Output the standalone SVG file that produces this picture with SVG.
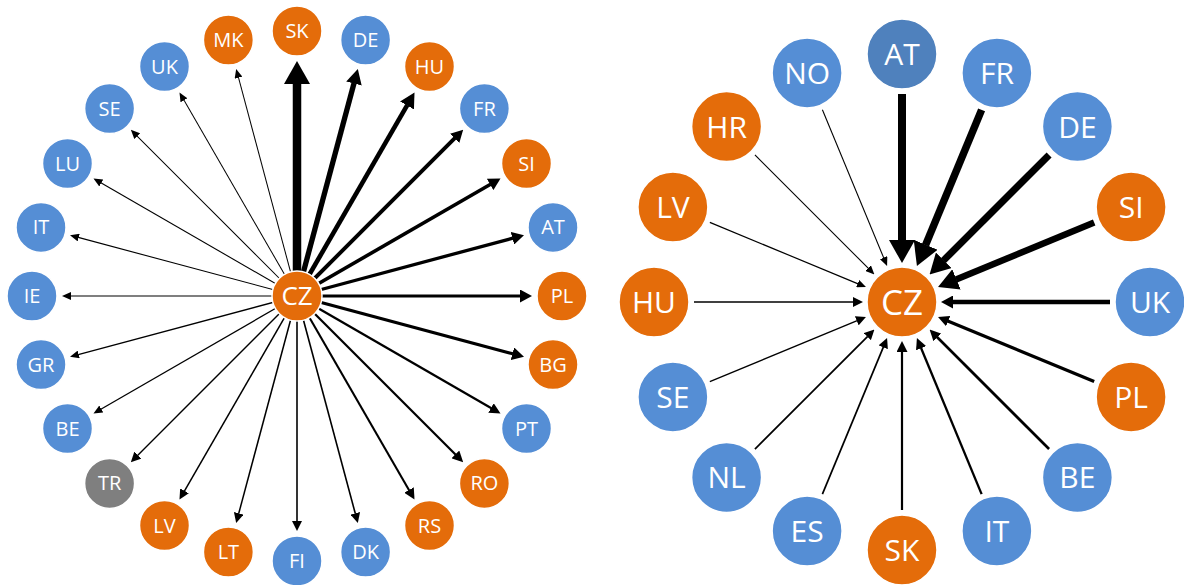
<svg xmlns="http://www.w3.org/2000/svg" width="1184" height="585" viewBox="0 0 1184 585">
  <style>
    .or { fill: #E46C0A; }
    .bl { fill: #558ED5; }
    .db { fill: #4F81BD; }
    .gy { fill: #7F7F7F; }
    circle { stroke: #ffffff; stroke-width: 1.5; }
    text { fill: #ffffff; font-family: "Open Sans", "Noto Sans", "Liberation Sans", sans-serif; text-anchor: middle; }
    .s { font-size: 20px; }
    .sc { font-size: 26px; }
    .l { font-size: 30px; }
    .lc { font-size: 35px; }
    line { stroke: #000000; fill: none; }
    marker path { fill: #000000; }
  </style>
  <defs>
    <!-- arrowheads, sized in user units; the shaft stops at the base of each head -->
    <marker id="h1" markerUnits="userSpaceOnUse" orient="auto" markerWidth="9" markerHeight="8" refX="0.5" refY="4"><path d="M0,0 L9,4 L0,8 Z"/></marker>
    <marker id="h2" markerUnits="userSpaceOnUse" orient="auto" markerWidth="10" markerHeight="10" refX="0.5" refY="5"><path d="M0,0 L10,5 L0,10 Z"/></marker>
    <marker id="h3" markerUnits="userSpaceOnUse" orient="auto" markerWidth="11" markerHeight="11" refX="0.5" refY="5.5"><path d="M0,0 L11,5.5 L0,11 Z"/></marker>
    <marker id="h4" markerUnits="userSpaceOnUse" orient="auto" markerWidth="12" markerHeight="13" refX="0.5" refY="6.5"><path d="M0,0 L12,6.5 L0,13 Z"/></marker>
    <marker id="h5" markerUnits="userSpaceOnUse" orient="auto" markerWidth="15" markerHeight="16" refX="0.5" refY="8"><path d="M0,0 L15,8 L0,16 Z"/></marker>
    <marker id="h6" markerUnits="userSpaceOnUse" orient="auto" markerWidth="20" markerHeight="22" refX="0.5" refY="11"><path d="M0,0 L20,11 L0,22 Z"/></marker>
    <marker id="h7" markerUnits="userSpaceOnUse" orient="auto" markerWidth="23" markerHeight="26" refX="0.5" refY="13"><path d="M0,0 L23,13 L0,26 Z"/></marker>
  </defs>
  <rect width="1184" height="585" fill="#ffffff"/>

  <!-- outgoing links: CZ at (297,296) to a ring of radius 265 -->
  <g id="connectors-out">
    <line x1="297" y1="296" x2="509.5" y2="296" stroke-width="8.5" marker-end="url(#h7)" transform="rotate(-90 297 296)"/>
    <line x1="297" y1="296" x2="517.5" y2="296" stroke-width="5.3" marker-end="url(#h5)" transform="rotate(-75 297 296)"/>
    <line x1="297" y1="296" x2="517.5" y2="296" stroke-width="4.6" marker-end="url(#h5)" transform="rotate(-60 297 296)"/>
    <line x1="297" y1="296" x2="520.5" y2="296" stroke-width="3.9" marker-end="url(#h4)" transform="rotate(-45 297 296)"/>
    <line x1="297" y1="296" x2="520.5" y2="296" stroke-width="3.6" marker-end="url(#h4)" transform="rotate(-30 297 296)"/>
    <line x1="297" y1="296" x2="520.5" y2="296" stroke-width="3.3" marker-end="url(#h4)" transform="rotate(-15 297 296)"/>
    <line x1="297" y1="296" x2="520.5" y2="296" stroke-width="3.2" marker-end="url(#h4)"/>
    <line x1="297" y1="296" x2="520.5" y2="296" stroke-width="3.1" marker-end="url(#h4)" transform="rotate(15 297 296)"/>
    <line x1="297" y1="296" x2="521.5" y2="296" stroke-width="2.3" marker-end="url(#h3)" transform="rotate(30 297 296)"/>
    <line x1="297" y1="296" x2="521.5" y2="296" stroke-width="2.2" marker-end="url(#h3)" transform="rotate(45 297 296)"/>
    <line x1="297" y1="296" x2="521.5" y2="296" stroke-width="2.1" marker-end="url(#h3)" transform="rotate(60 297 296)"/>
    <line x1="297" y1="296" x2="522.5" y2="296" stroke-width="1.6" marker-end="url(#h2)" transform="rotate(75 297 296)"/>
    <line x1="297" y1="296" x2="522.5" y2="296" stroke-width="1.6" marker-end="url(#h2)" transform="rotate(90 297 296)"/>
    <line x1="297" y1="296" x2="522.5" y2="296" stroke-width="1.5" marker-end="url(#h2)" transform="rotate(105 297 296)"/>
    <line x1="297" y1="296" x2="522.5" y2="296" stroke-width="1.5" marker-end="url(#h2)" transform="rotate(120 297 296)"/>
    <line x1="297" y1="296" x2="522.5" y2="296" stroke-width="1.4" marker-end="url(#h2)" transform="rotate(135 297 296)"/>
    <line x1="297" y1="296" x2="523.5" y2="296" stroke-width="1.3" marker-end="url(#h1)" transform="rotate(150 297 296)"/>
    <line x1="297" y1="296" x2="523.5" y2="296" stroke-width="1.3" marker-end="url(#h1)" transform="rotate(165 297 296)"/>
    <line x1="297" y1="296" x2="523.5" y2="296" stroke-width="1.2" marker-end="url(#h1)" transform="rotate(180 297 296)"/>
    <line x1="297" y1="296" x2="523.5" y2="296" stroke-width="1.1" marker-end="url(#h1)" transform="rotate(195 297 296)"/>
    <line x1="297" y1="296" x2="523.5" y2="296" stroke-width="1.1" marker-end="url(#h1)" transform="rotate(210 297 296)"/>
    <line x1="297" y1="296" x2="523.5" y2="296" stroke-width="1" marker-end="url(#h1)" transform="rotate(225 297 296)"/>
    <line x1="297" y1="296" x2="523.5" y2="296" stroke-width="1" marker-end="url(#h1)" transform="rotate(240 297 296)"/>
    <line x1="297" y1="296" x2="523.5" y2="296" stroke-width="1" marker-end="url(#h1)" transform="rotate(255 297 296)"/>
  </g>

  <!-- incoming links: ring of radius 248 into CZ at (902,302) -->
  <g id="connectors-in">
    <line x1="1110" y1="302" x2="963.5" y2="302" stroke-width="8" marker-end="url(#h7)" transform="rotate(-90 902 302)"/>
    <line x1="1110" y1="302" x2="963.5" y2="302" stroke-width="7.5" marker-end="url(#h7)" transform="rotate(-67.5 902 302)"/>
    <line x1="1110" y1="302" x2="960.5" y2="302" stroke-width="7" marker-end="url(#h6)" transform="rotate(-45 902 302)"/>
    <line x1="1110" y1="302" x2="960.5" y2="302" stroke-width="6.5" marker-end="url(#h6)" transform="rotate(-22.5 902 302)"/>
    <line x1="1110" y1="302" x2="952.5" y2="302" stroke-width="4.4" marker-end="url(#h4)"/>
    <line x1="1110" y1="302" x2="951.5" y2="302" stroke-width="3.3" marker-end="url(#h3)" transform="rotate(22.5 902 302)"/>
    <line x1="1110" y1="302" x2="951.5" y2="302" stroke-width="2.7" marker-end="url(#h3)" transform="rotate(45 902 302)"/>
    <line x1="1110" y1="302" x2="951.5" y2="302" stroke-width="2.3" marker-end="url(#h3)" transform="rotate(67.5 902 302)"/>
    <line x1="1110" y1="302" x2="951.5" y2="302" stroke-width="2.2" marker-end="url(#h3)" transform="rotate(90 902 302)"/>
    <line x1="1110" y1="302" x2="950.5" y2="302" stroke-width="1.7" marker-end="url(#h2)" transform="rotate(112.5 902 302)"/>
    <line x1="1110" y1="302" x2="950.5" y2="302" stroke-width="1.7" marker-end="url(#h2)" transform="rotate(135 902 302)"/>
    <line x1="1110" y1="302" x2="950.5" y2="302" stroke-width="1.4" marker-end="url(#h2)" transform="rotate(157.5 902 302)"/>
    <line x1="1110" y1="302" x2="950.5" y2="302" stroke-width="1.4" marker-end="url(#h2)" transform="rotate(180 902 302)"/>
    <line x1="1110" y1="302" x2="949.5" y2="302" stroke-width="1.2" marker-end="url(#h1)" transform="rotate(202.5 902 302)"/>
    <line x1="1110" y1="302" x2="949.5" y2="302" stroke-width="1.1" marker-end="url(#h1)" transform="rotate(225 902 302)"/>
    <line x1="1110" y1="302" x2="949.5" y2="302" stroke-width="1.1" marker-end="url(#h1)" transform="rotate(247.5 902 302)"/>
  </g>

  <!-- left ring nodes (r = 25) -->
  <g id="L-CZ" transform="translate(297 296)"><circle r="25" class="or"/><text class="sc" y="9">CZ</text></g>
  <g id="L-SK" transform="translate(297 31)"><circle r="25" class="or"/><text class="s" y="7">SK</text></g>
  <g id="L-DE" transform="translate(365.6 40)"><circle r="25" class="bl"/><text class="s" y="7">DE</text></g>
  <g id="L-HU" transform="translate(429.5 66.5)"><circle r="25" class="or"/><text class="s" y="7">HU</text></g>
  <g id="L-FR" transform="translate(484.4 108.6)"><circle r="25" class="bl"/><text class="s" y="7">FR</text></g>
  <g id="L-SI" transform="translate(526.5 163.5)"><circle r="25" class="or"/><text class="s" y="7">SI</text></g>
  <g id="L-AT" transform="translate(553 227.4)"><circle r="25" class="bl"/><text class="s" y="7">AT</text></g>
  <g id="L-PL" transform="translate(562 296)"><circle r="25" class="or"/><text class="s" y="7">PL</text></g>
  <g id="L-BG" transform="translate(553 364.6)"><circle r="25" class="or"/><text class="s" y="7">BG</text></g>
  <g id="L-PT" transform="translate(526.5 428.5)"><circle r="25" class="bl"/><text class="s" y="7">PT</text></g>
  <g id="L-RO" transform="translate(484.4 483.4)"><circle r="25" class="or"/><text class="s" y="7">RO</text></g>
  <g id="L-RS" transform="translate(429.5 525.5)"><circle r="25" class="or"/><text class="s" y="7">RS</text></g>
  <g id="L-DK" transform="translate(365.6 552)"><circle r="25" class="bl"/><text class="s" y="7">DK</text></g>
  <g id="L-FI" transform="translate(297 561)"><circle r="25" class="bl"/><text class="s" y="7">FI</text></g>
  <g id="L-LT" transform="translate(228.4 552)"><circle r="25" class="or"/><text class="s" y="7">LT</text></g>
  <g id="L-LV" transform="translate(164.5 525.5)"><circle r="25" class="or"/><text class="s" y="7">LV</text></g>
  <g id="L-TR" transform="translate(109.6 483.4)"><circle r="25" class="gy"/><text class="s" y="7">TR</text></g>
  <g id="L-BE" transform="translate(67.5 428.5)"><circle r="25" class="bl"/><text class="s" y="7">BE</text></g>
  <g id="L-GR" transform="translate(41 364.6)"><circle r="25" class="bl"/><text class="s" y="7">GR</text></g>
  <g id="L-IE" transform="translate(32 296)"><circle r="25" class="bl"/><text class="s" y="7">IE</text></g>
  <g id="L-IT" transform="translate(41 227.4)"><circle r="25" class="bl"/><text class="s" y="7">IT</text></g>
  <g id="L-LU" transform="translate(67.5 163.5)"><circle r="25" class="bl"/><text class="s" y="7">LU</text></g>
  <g id="L-SE" transform="translate(109.6 108.6)"><circle r="25" class="bl"/><text class="s" y="7">SE</text></g>
  <g id="L-UK" transform="translate(164.5 66.5)"><circle r="25" class="bl"/><text class="s" y="7">UK</text></g>
  <g id="L-MK" transform="translate(228.4 40)"><circle r="25" class="or"/><text class="s" y="7">MK</text></g>

  <!-- right ring nodes (r = 35) -->
  <g id="R-CZ" transform="translate(902 302)"><circle r="35" class="or"/><text class="lc" y="12.5">CZ</text></g>
  <g id="R-AT" transform="translate(902 54)"><circle r="35" class="db"/><text class="l" y="11">AT</text></g>
  <g id="R-FR" transform="translate(996.9 72.9)"><circle r="35" class="bl"/><text class="l" y="11">FR</text></g>
  <g id="R-DE" transform="translate(1077.4 126.6)"><circle r="35" class="bl"/><text class="l" y="11">DE</text></g>
  <g id="R-SI" transform="translate(1131.1 207.1)"><circle r="35" class="or"/><text class="l" y="11">SI</text></g>
  <g id="R-UK" transform="translate(1150 302)"><circle r="35" class="bl"/><text class="l" y="11">UK</text></g>
  <g id="R-PL" transform="translate(1131.1 396.9)"><circle r="35" class="or"/><text class="l" y="11">PL</text></g>
  <g id="R-BE" transform="translate(1077.4 477.4)"><circle r="35" class="bl"/><text class="l" y="11">BE</text></g>
  <g id="R-IT" transform="translate(996.9 531.1)"><circle r="35" class="bl"/><text class="l" y="11">IT</text></g>
  <g id="R-SK" transform="translate(902 550)"><circle r="35" class="or"/><text class="l" y="11">SK</text></g>
  <g id="R-ES" transform="translate(807.1 531.1)"><circle r="35" class="bl"/><text class="l" y="11">ES</text></g>
  <g id="R-NL" transform="translate(726.6 477.4)"><circle r="35" class="bl"/><text class="l" y="11">NL</text></g>
  <g id="R-SE" transform="translate(672.9 396.9)"><circle r="35" class="bl"/><text class="l" y="11">SE</text></g>
  <g id="R-HU" transform="translate(654 302)"><circle r="35" class="or"/><text class="l" y="11">HU</text></g>
  <g id="R-LV" transform="translate(672.9 207.1)"><circle r="35" class="or"/><text class="l" y="11">LV</text></g>
  <g id="R-HR" transform="translate(726.6 126.6)"><circle r="35" class="or"/><text class="l" y="11">HR</text></g>
  <g id="R-NO" transform="translate(807.1 72.9)"><circle r="35" class="bl"/><text class="l" y="11">NO</text></g>
</svg>
